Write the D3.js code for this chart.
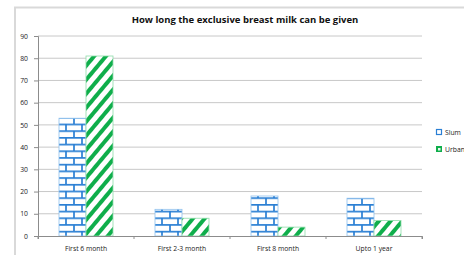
<!DOCTYPE html>
<html>
<head>
<meta charset="utf-8">
<script src="https://cdn.jsdelivr.net/npm/d3@7"></script>
<style>
  body { margin: 0; background: #fff; }
  text { font-family: "Open Sans", "DejaVu Sans", sans-serif; }
</style>
</head>
<body>
<div class="bar-chart"></div>
<script>
var categories = ["First 6 month", "First 2-3 month", "First 8 month", "Upto 1 year"];
var seriesNames = ["Slum", "Urban"];
var slum = [53, 12, 18, 17];
var urban = [81, 8, 4, 7];
var yTicks = [0, 10, 20, 30, 40, 50, 60, 70, 80, 90];

var margin = {top: 36, right: 42, bottom: 19, left: 38},
    W = 464, H = 255,
    width = W - margin.left - margin.right,
    height = H - margin.top - margin.bottom;

var svg = d3.select(".bar-chart").append("svg")
    .attr("width", W)
    .attr("height", H);

// patterns
var defs = svg.append("defs");
var brick = defs.append("pattern")
    .attr("id", "brick")
    .attr("patternUnits", "userSpaceOnUse")
    .attr("width", 16).attr("height", 13.4)
    .attr("x", 0).attr("y", 0.5);
brick.append("rect").attr("width", 16).attr("height", 13.4).attr("fill", "#fff");
var bc = "#2a7fd4";
brick.append("path")
    .attr("d", "M0,0.8H16M0,7.5H16M4,0.8V7.5M12,7.5V14.2")
    .attr("stroke", bc).attr("stroke-width", 1.7).attr("fill", "none");

var hatch = defs.append("pattern")
    .attr("id", "hatch")
    .attr("patternUnits", "userSpaceOnUse")
    .attr("width", 9).attr("height", 9)
    .attr("patternTransform", "rotate(40)");
hatch.append("rect").attr("width", 9).attr("height", 9).attr("fill", "#fff");
hatch.append("rect").attr("width", 4).attr("height", 9).attr("fill", "#0fae4b");

// chart border
svg.append("path")
    .attr("d", "M15,258V7.5H470")
    .attr("fill", "none").attr("stroke", "#d9d9d9").attr("stroke-width", 2);

svg.append("text")
    .attr("x", 245).attr("y", 23)
    .attr("text-anchor", "middle")
    .attr("font-size", 9.5).attr("font-weight", "bold")
    .attr("fill", "#111")
    .text("How long the exclusive breast milk can be given");

var g = svg.append("g")
    .attr("transform", "translate(" + margin.left + "," + margin.top + ")");

var x = d3.scaleBand().domain(categories).range([0, width]);
var x1 = d3.scaleBand().domain(seriesNames).range([0, 54]);
var y = d3.scaleLinear().domain([0, 90]).range([height, 0]);

// gridlines
g.selectAll(".grid").data(yTicks.slice(1)).enter().append("line")
    .attr("x1", 0).attr("x2", width)
    .attr("y1", function(d) { return y(d); })
    .attr("y2", function(d) { return y(d); })
    .attr("stroke", "#c8c8c8").attr("stroke-width", 1);

var rows = categories.map(function(c, i) {
  return [{cat: c, s: "Slum", v: slum[i]}, {cat: c, s: "Urban", v: urban[i]}];
});
var all = [].concat.apply([], rows);

g.selectAll(".bar").data(all).enter().append("rect")
    .attr("x", function(d) { return x(d.cat) + x.bandwidth() / 2 - 27 + x1(d.s); })
    .attr("width", x1.bandwidth())
    .attr("y", function(d) { return y(d.v); })
    .attr("height", function(d) { return height - y(d.v); })
    .attr("fill", function(d) { return d.s == "Slum" ? "url(#brick)" : "url(#hatch)"; })
    .attr("stroke", function(d) { return d.s == "Slum" ? "#8fc1ee" : "#8fdcaa"; })
    .attr("stroke-width", 0.8);

var yAxis = g.append("g")
    .call(d3.axisLeft(y).tickValues(yTicks).tickSize(4).tickPadding(6));
var xAxis = g.append("g")
    .attr("transform", "translate(0," + height + ")")
    .call(d3.axisBottom(x).tickSize(3).tickPadding(7));
xAxis.selectAll(".tick line").attr("transform", "translate(" + (-x.bandwidth() / 2) + ",0)");
xAxis.append("line").attr("x1", width).attr("x2", width).attr("y1", 0).attr("y2", 3);
[yAxis, xAxis].forEach(function(a) {
  a.selectAll("path, line").attr("stroke", "#8c8c8c");
  a.selectAll("text").attr("font-size", 6.8).attr("fill", "#222")
    .attr("font-family", "\"Open Sans\", \"DejaVu Sans\", sans-serif");
});
xAxis.selectAll("line").filter(function() { return this.getAttribute("x2") == width; }).attr("stroke", "#8c8c8c");

// legend
var leg = svg.append("g").attr("transform", "translate(436,129)");
seriesNames.forEach(function(s, i) {
  var lg = leg.append("g").attr("transform", "translate(0," + (i * 17) + ")");
  if (i == 0) {
    lg.append("rect").attr("x", 0.5).attr("y", 0.5).attr("width", 5).attr("height", 5)
      .attr("fill", "#fff").attr("stroke", bc).attr("stroke-width", 1.2);
  } else {
    lg.append("rect").attr("x", 0).attr("y", 0).attr("width", 6).attr("height", 6)
      .attr("fill", "#0fae4b");
    lg.append("rect").attr("x", 2).attr("y", 2).attr("width", 2.5).attr("height", 2.5)
      .attr("fill", "#e8f8ee");
  }
  lg.append("text").attr("x", 9).attr("y", 5.5)
    .attr("font-size", 6.8).attr("fill", "#222").text(s);
});
</script>
</body>
</html>
